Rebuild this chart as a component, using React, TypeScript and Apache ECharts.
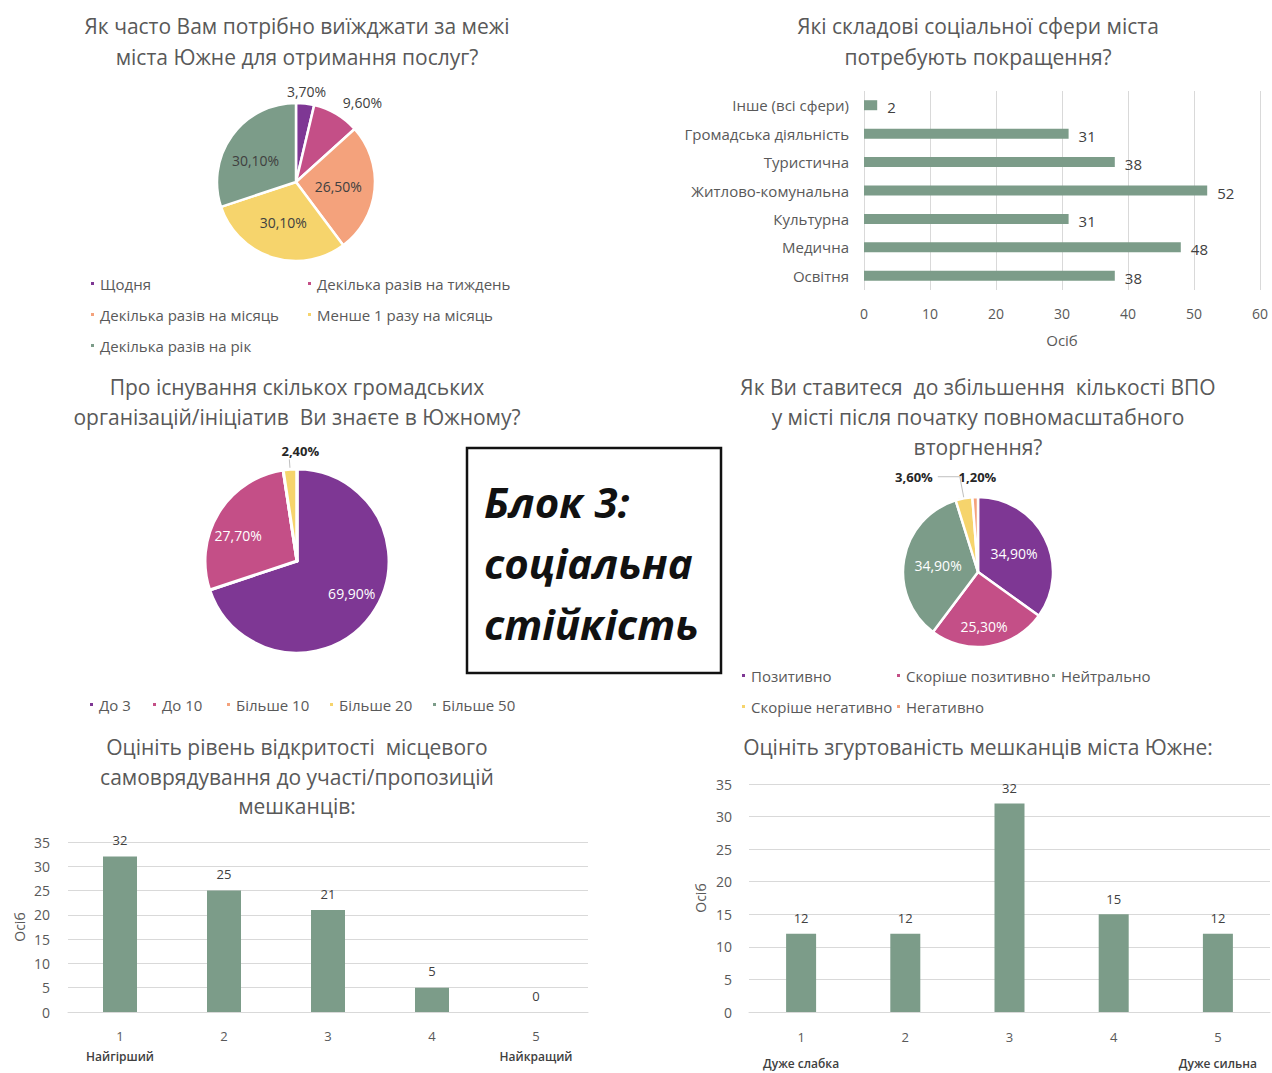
import { useEffect, useRef } from "react";
import * as echarts from "echarts";

// ---------- DATA ----------
const travelNames = [
  "Щодня",
  "Декілька разів на тиждень",
  "Декілька разів на місяць",
  "Менше 1 разу на місяць",
  "Декілька разів на рік",
];
const travelValues = [3.7, 9.6, 26.5, 30.1, 30.1];

const sphereCategories = [
  "Освітня",
  "Медична",
  "Культурна",
  "Житлово-комунальна",
  "Туристична",
  "Громадська діяльність",
  "Інше (всі сфери)",
];
const sphereValues = [38, 48, 31, 52, 38, 31, 2];

const orgNames = ["До 3", "До 10", "Більше 10", "Більше 20", "Більше 50"];
const orgValues = [69.9, 27.7, 0, 2.4, 0];

const idpNames = [
  "Позитивно",
  "Скоріше позитивно",
  "Нейтрально",
  "Скоріше негативно",
  "Негативно",
];
const idpValues = [34.9, 25.3, 34.9, 3.6, 1.2];

const openCategories = ["1", "2", "3", "4", "5"];
const openSubLabels = ["Найгірший", "", "", "", "Найкращий"];
const openValues = [32, 25, 21, 5, 0];

const cohesionCategories = ["1", "2", "3", "4", "5"];
const cohesionSubLabels = ["Дуже слабка", "", "", "", "Дуже сильна"];
const cohesionValues = [12, 12, 32, 15, 12];

const titles = [
  "Як часто Вам потрібно виїжджати за межі\nміста Южне для отримання послуг?",
  "Які складові соціальної сфери міста\nпотребують покращення?",
  "Про існування скількох громадських\nорганізацій/ініціатив  Ви знаєте в Южному?",
  "Як Ви ставитеся  до збільшення  кількості ВПО\nу місті після початку повномасштабного\nвторгнення?",
  "Оцініть рівень відкритості  місцевого\nсамоврядування до участі/пропозицій\nмешканців:",
  "Оцініть згуртованість мешканців міста Южне:",
];
const blockText = "Блок 3:\nсоціальна\nстійкість";
const axisName = "Осіб";

// ---------- STYLE ----------
const FONT = "'Open Sans', sans-serif";
const PURPLE = "#7E3794";
const PINK = "#C44F87";
const ORANGE = "#F4A27C";
const YELLOW = "#F6D46C";
const GREEN = "#7C9C89";
const TEXT = "#595959";
const DARK = "#404040";
const GRIDLINE = "#D9D9D9";

const travelColors = [PURPLE, PINK, ORANGE, YELLOW, GREEN];
const orgColors = [PURPLE, PINK, ORANGE, YELLOW, GREEN];
const idpColors = [PURPLE, PINK, GREEN, YELLOW, ORANGE];

const pct = (v: number) => v.toFixed(2).replace(".", ",") + "%";

function pieData(
  names: string[],
  values: number[],
  colors: string[],
  outside: Record<number, any>
) {
  return names.map((name, i) => {
    const item: any = { name, value: values[i], itemStyle: { color: colors[i] } };
    if (values[i] === 0) {
      item.label = { show: false };
      item.labelLine = { show: false };
    } else if (outside[i]) {
      item.label = { position: "outside", ...outside[i].label };
      item.labelLine = outside[i].labelLine;
    }
    return item;
  });
}

function legendItem(name: string, left: number, cy: number) {
  return {
    data: [name],
    left,
    top: cy - 8,
    padding: 0,
    icon: "rect",
    itemWidth: 5,
    itemHeight: 5,
    itemGap: 0,
    selectedMode: false,
    textStyle: { color: TEXT, fontSize: 15, fontFamily: FONT },
  };
}

function titleText(text: string, x: number, y: number, lineHeight: number) {
  return {
    type: "text",
    x,
    y,
    style: {
      text,
      font: `21px ${FONT}`,
      fill: TEXT,
      align: "center",
      textAlign: "center",
      verticalAlign: "middle",
      textVerticalAlign: "middle",
      lineHeight,
    },
  };
}

function subLabelFormatter(subs: string[]) {
  return (value: string, index: number) =>
    subs[index] ? `{n|${value}}\n{s|${subs[index]}}` : `{n|${value}}`;
}

export default function App() {
  const ref = useRef<HTMLDivElement>(null);

  useEffect(() => {
    if (!ref.current) return;
    const chart = echarts.init(ref.current, undefined, { renderer: "svg" });

    const valueAxisLabel = { color: TEXT, fontSize: 14, fontFamily: FONT };

    const option: any = {
      animation: false,
      backgroundColor: "#ffffff",
      textStyle: { fontFamily: FONT },
      grid: [
        { left: 864, right: 12, top: 91, height: 199 },
        { left: 68, width: 520, top: 842, height: 170 },
        { left: 749, width: 521, top: 784, height: 228 },
      ],
      xAxis: [
        {
          gridIndex: 0,
          type: "value",
          min: 0,
          max: 60,
          interval: 10,
          axisLine: { show: false },
          axisTick: { show: false },
          splitLine: { lineStyle: { color: GRIDLINE } },
          axisLabel: { ...valueAxisLabel, margin: 16 },
          name: axisName,
          nameLocation: "middle",
          nameGap: 42,
          nameTextStyle: { color: TEXT, fontSize: 15, fontFamily: FONT },
        },
        {
          gridIndex: 1,
          type: "category",
          data: openCategories,
          axisTick: { show: false },
          axisLine: { lineStyle: { color: GRIDLINE } },
          axisLabel: {
            interval: 0,
            margin: 13,
            formatter: subLabelFormatter(openSubLabels),
            rich: {
              n: { fontSize: 13, color: TEXT, lineHeight: 21, fontFamily: FONT },
              s: { fontSize: 12, color: DARK, lineHeight: 21, fontWeight: 600, fontFamily: FONT },
            },
          },
        },
        {
          gridIndex: 2,
          type: "category",
          data: cohesionCategories,
          axisTick: { show: false },
          axisLine: { lineStyle: { color: GRIDLINE } },
          axisLabel: {
            interval: 0,
            margin: 13,
            formatter: subLabelFormatter(cohesionSubLabels),
            rich: {
              n: { fontSize: 13, color: TEXT, lineHeight: 24, fontFamily: FONT },
              s: { fontSize: 12, color: DARK, lineHeight: 28, fontWeight: 600, fontFamily: FONT },
            },
          },
        },
      ],
      yAxis: [
        {
          gridIndex: 0,
          type: "category",
          data: sphereCategories,
          axisLine: { show: false },
          axisTick: { show: false },
          axisLabel: { color: TEXT, fontSize: 15, fontFamily: FONT, margin: 15 },
        },
        {
          gridIndex: 1,
          type: "value",
          min: 0,
          max: 35,
          interval: 5,
          axisLine: { show: false },
          axisTick: { show: false },
          splitLine: { lineStyle: { color: GRIDLINE } },
          axisLabel: { ...valueAxisLabel, margin: 18 },
          name: axisName,
          nameLocation: "middle",
          nameRotate: 90,
          nameGap: 42,
          nameTextStyle: { color: TEXT, fontSize: 14, fontFamily: FONT },
        },
        {
          gridIndex: 2,
          type: "value",
          min: 0,
          max: 35,
          interval: 5,
          axisLine: { show: false },
          axisTick: { show: false },
          splitLine: { lineStyle: { color: GRIDLINE } },
          axisLabel: { ...valueAxisLabel, margin: 17 },
          name: axisName,
          nameLocation: "middle",
          nameRotate: 90,
          nameGap: 42,
          nameTextStyle: { color: TEXT, fontSize: 14, fontFamily: FONT },
        },
      ],
      legend: [
        legendItem(travelNames[0], 89, 284),
        legendItem(travelNames[1], 306, 284),
        legendItem(travelNames[2], 89, 315),
        legendItem(travelNames[3], 306, 315),
        legendItem(travelNames[4], 89, 346),
        legendItem(orgNames[0], 88, 705),
        legendItem(orgNames[1], 151, 705),
        legendItem(orgNames[2], 225, 705),
        legendItem(orgNames[3], 328, 705),
        legendItem(orgNames[4], 431, 705),
        legendItem(idpNames[0], 740, 676),
        legendItem(idpNames[1], 895, 676),
        legendItem(idpNames[2], 1050, 676),
        legendItem(idpNames[3], 740, 707),
        legendItem(idpNames[4], 895, 707),
      ],
      series: [
        {
          type: "pie",
          center: [296, 182],
          radius: 79,
          startAngle: 90,
          avoidLabelOverlap: false,
          itemStyle: { borderColor: "#fff", borderWidth: 2.5 },
          label: {
            position: "inside",
            formatter: (p: any) => pct(p.value),
            color: DARK,
            fontSize: 14,
            fontFamily: FONT,
          },
          labelLayout: (p: any) => {
            if (p.dataIndex === 0) return { align: "center" };
            if (p.dataIndex === 4) return { dx: -6, dy: 3 };
            return {};
          },
          data: pieData(travelNames, travelValues, travelColors, {
            0: {
              label: { distanceToLabelLine: 0 },
              labelLine: { show: false, length: 12, length2: 0 },
            },
            1: {
              label: { distanceToLabelLine: 0 },
              labelLine: { show: false, length: 13, length2: 0 },
            },
          }),
        },
        {
          type: "pie",
          center: [297, 561],
          radius: 92,
          startAngle: 90,
          avoidLabelOverlap: false,
          itemStyle: { borderColor: "#fff", borderWidth: 3 },
          label: {
            position: "inside",
            formatter: (p: any) => pct(p.value),
            color: "#ffffff",
            fontSize: 14,
            fontFamily: FONT,
          },
          labelLayout: (p: any) => {
            if (p.dataIndex === 0) return { dx: 15, dy: 4 };
            if (p.dataIndex === 1) return { dx: -17 };
            if (p.dataIndex === 3) return { align: "center", verticalAlign: "bottom", dx: 11, dy: -2 };
            return {};
          },
          data: pieData(orgNames, orgValues, orgColors, {
            3: {
              label: { distanceToLabelLine: 0, color: "#262626", fontWeight: "bold", fontSize: 13 },
              labelLine: { show: true, length: 10, length2: 0, lineStyle: { color: "#BFBFBF" } },
            },
          }),
        },
        {
          type: "pie",
          center: [978, 572],
          radius: 75,
          startAngle: 90,
          avoidLabelOverlap: false,
          itemStyle: { borderColor: "#fff", borderWidth: 2.5 },
          label: {
            position: "inside",
            formatter: (p: any) => pct(p.value),
            color: "#ffffff",
            fontSize: 14,
            fontFamily: FONT,
          },
          labelLayout: (p: any) => {
            if (p.dataIndex === 1) return { dy: 14 };
            if (p.dataIndex === 4) return { align: "center", dx: 3 };
            return {};
          },
          data: pieData(idpNames, idpValues, idpColors, {
            3: {
              label: { color: "#262626", fontWeight: "bold", fontSize: 13 },
              labelLine: { show: true, length: 22, length2: 22, lineStyle: { color: "#BFBFBF" } },
            },
            4: {
              label: { distanceToLabelLine: 0, color: "#262626", fontWeight: "bold", fontSize: 13 },
              labelLine: { show: false, length: 20, length2: 0 },
            },
          }),
        },
        {
          type: "bar",
          xAxisIndex: 0,
          yAxisIndex: 0,
          data: sphereValues,
          barWidth: 10,
          itemStyle: { color: GREEN },
          label: {
            show: true,
            position: "right",
            distance: 10,
            offset: [0, 2],
            color: DARK,
            fontSize: 15,
            fontFamily: FONT,
          },
        },
        {
          type: "bar",
          xAxisIndex: 1,
          yAxisIndex: 1,
          data: openValues,
          barWidth: 34,
          itemStyle: { color: GREEN },
          label: { show: true, position: "top", distance: 10, color: DARK, fontSize: 13, fontFamily: FONT },
        },
        {
          type: "bar",
          xAxisIndex: 2,
          yAxisIndex: 2,
          data: cohesionValues,
          barWidth: 30,
          itemStyle: { color: GREEN },
          label: { show: true, position: "top", distance: 9, color: DARK, fontSize: 13, fontFamily: FONT },
        },
      ],
      graphic: [
        titleText(titles[0], 297, 41.5, 31),
        titleText(titles[1], 978, 41.5, 31),
        titleText(titles[2], 297, 402, 30),
        titleText(titles[3], 978, 417, 30),
        titleText(titles[4], 297, 776.5, 29.5),
        titleText(titles[5], 978, 747, 30),
        {
          type: "rect",
          shape: { x: 467, y: 448, width: 254, height: 225 },
          style: { fill: "#ffffff", stroke: "#111111", lineWidth: 2.5 },
        },
        {
          type: "text",
          x: 484,
          y: 562,
          style: {
            text: blockText,
            font: `italic bold 42px ${FONT}`,
            fill: "#111111",
            align: "left",
            textAlign: "left",
            verticalAlign: "middle",
            textVerticalAlign: "middle",
            lineHeight: 61,
          },
        },
      ],
    };

    chart.setOption(option);
    return () => chart.dispose();
  }, []);

  return (
    <div
      ref={ref}
      style={{ position: "fixed", left: 0, top: 0, width: 1272, height: 1073, background: "#fff" }}
    />
  );
}
